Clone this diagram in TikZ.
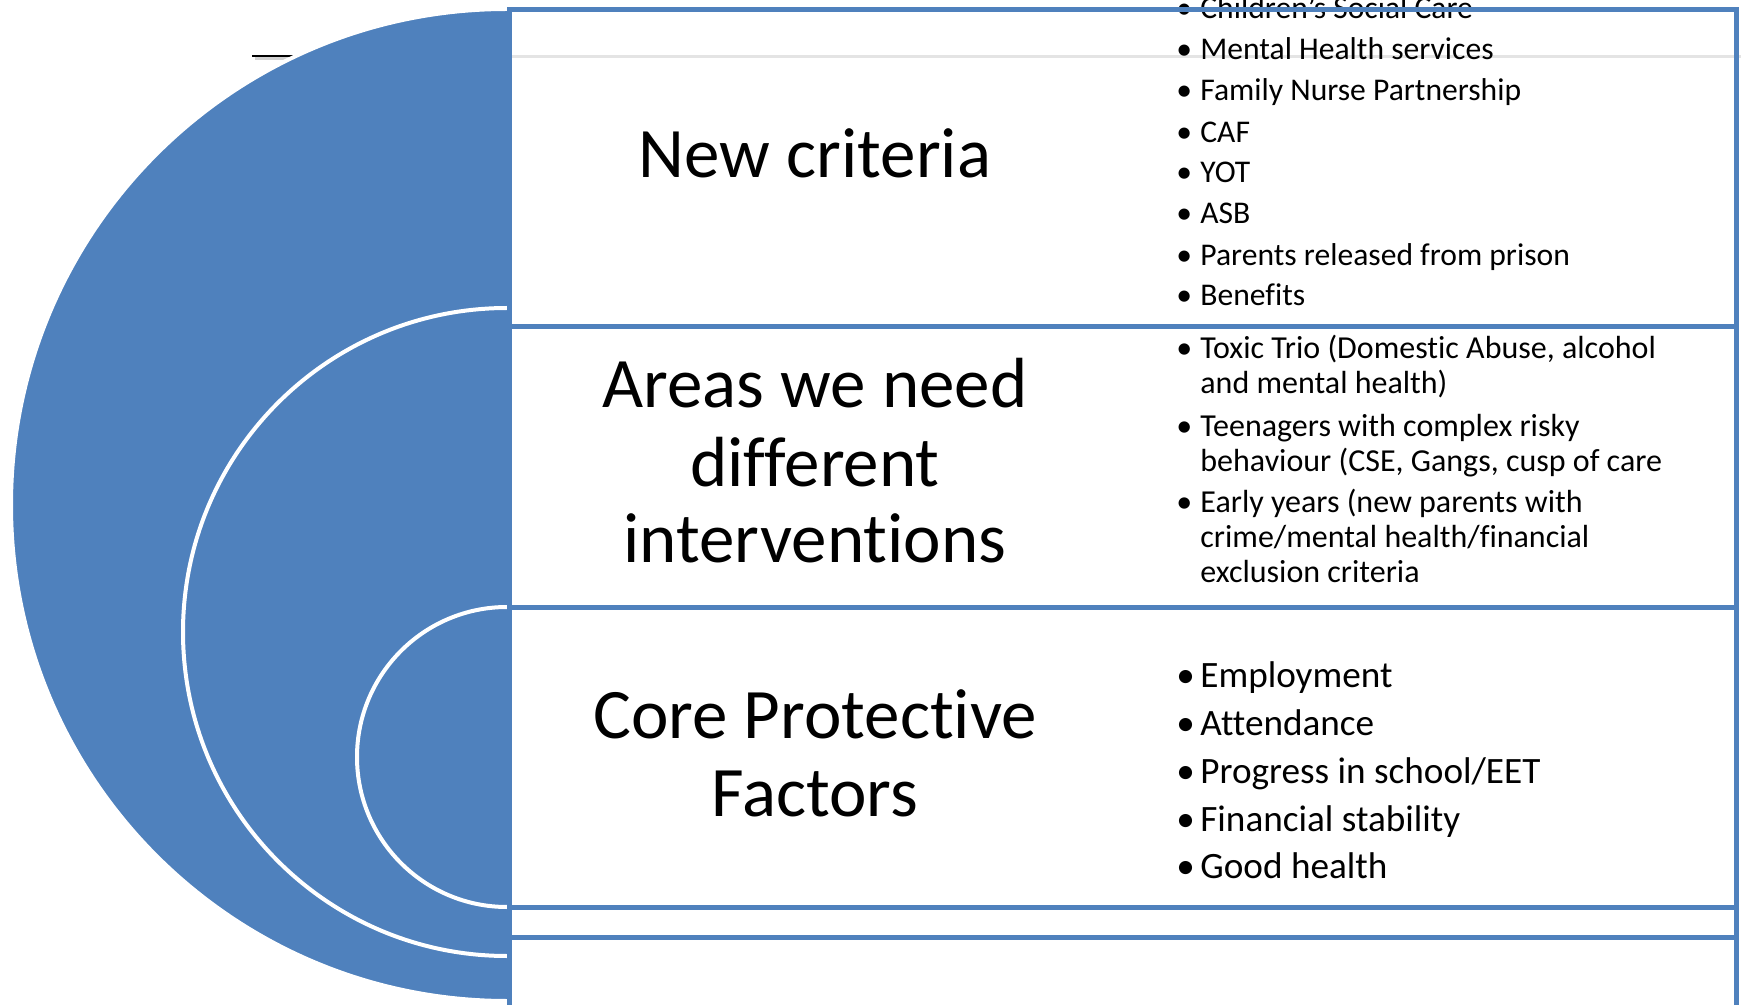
\documentclass[tikz,border=0pt]{standalone}
\usepackage{fontspec}
\setmainfont{Carlito}[Ligatures=NoCommon]
\usepackage{tikz}
\definecolor{nestblue}{HTML}{4F81BD}
\definecolor{rulegrey}{HTML}{E4E4E4}
\newcommand{\bul}{\makebox[12pt][l]{\textbullet}}

\begin{document}
\begin{tikzpicture}[x=0.5pt,y=0.5pt,yscale=-1,xscale=1,
  bigtext/.style={anchor=base,inner sep=0pt,font=\fontsize{35.5}{39}\selectfont},
  crittext/.style={anchor=base west,inner sep=0pt,font=\fontsize{15.8}{20}\selectfont},
  areatext/.style={anchor=base west,inner sep=0pt,font=\fontsize{16}{18}\selectfont},
  coretext/.style={anchor=base west,inner sep=0pt,font=\fontsize{18.6}{24}\selectfont},
  boxline/.style={draw=nestblue,line width=2.5pt},
  ring/.style={fill=nestblue,draw=white,line width=2pt}]
\useasboundingbox (0,0) rectangle (1741,1005);
\fill[white] (0,0) rectangle (1741,1005);

%Straight Lines: small dash at top left
\draw[gray!35,line width=1.5pt] (255,59) -- (298,59);
\draw[black,line width=1pt] (252,56) -- (295,56);

%Shape: nested half discs
\begin{scope}
\clip (0,0) rectangle (507,1005);
\draw[ring] (507,505) circle [radius=496];
\draw[ring] (507,632) circle [radius=324];
\draw[ring] (507,757) circle [radius=150];
\end{scope}

%Straight Lines: grey rule
\draw[rulegrey,line width=1.5pt] (511,57) -- (1741,57);

% Text Node
\draw (815,178) node (crit) [bigtext] {New criteria};
% Text Node
\draw (815,408) node (areaA) [bigtext] {Areas we need};
\draw (815,487) node (areaB) [bigtext] {different};
\draw (815,562) node (areaC) [bigtext] {interventions};
% Text Node
\draw (815,738) node (coreA) [bigtext] {Core Protective};
\draw (815,816) node (coreB) [bigtext] {Factors};

% Text Node: new criteria list
\draw (1176,19) node (crit1) [crittext] {\bul Children’s Social Care};
\draw (1176,60) node (crit2) [crittext] {\bul Mental Health services};
\draw (1176,101) node (crit3) [crittext] {\bul Family Nurse Partnership};
\draw (1176,143) node (crit4) [crittext] {\bul CAF};
\draw (1176,183) node (crit5) [crittext] {\bul YOT};
\draw (1176,224) node (crit6) [crittext] {\bul ASB};
\draw (1176,266) node (crit7) [crittext] {\bul Parents released from prison};
\draw (1176,306) node (crit8) [crittext] {\bul Benefits};

% Text Node: areas list
\draw (1176,359) node (area1) [areatext] {\bul Toxic Trio (Domestic Abuse, alcohol};
\draw (1200,394) node (area1b) [areatext] {and mental health)};
\draw (1176,437) node (area2) [areatext] {\bul Teenagers with complex risky};
\draw (1200,472) node (area2b) [areatext] {behaviour (CSE, Gangs, cusp of care};
\draw (1176,513) node (area3) [areatext] {\bul Early years (new parents with};
\draw (1200,548) node (area3b) [areatext] {crime/mental health/financial};
\draw (1200,582) node (area3c) [areatext] {exclusion criteria};

% Text Node: core list
\draw (1176,687) node (core1) [coretext] {\bul Employment};
\draw (1176,735) node (core2) [coretext] {\bul Attendance};
\draw (1176,783) node (core3) [coretext] {\bul Progress in school/EET};
\draw (1176,831) node (core4) [coretext] {\bul Financial stability};
\draw (1176,878) node (core5) [coretext] {\bul Good health};

%Shape: Rectangles
\draw[boxline] (509,10) rectangle (1736,327);
\draw[boxline] (509,327) rectangle (1736,607);
\draw[boxline] (509,607) rectangle (1736,907);
\draw[boxline] (509,907) -- (509,937) (1736,907) -- (1736,937);
\draw[boxline] (509,937) rectangle (1736,1012);

\end{tikzpicture}
\end{document}
